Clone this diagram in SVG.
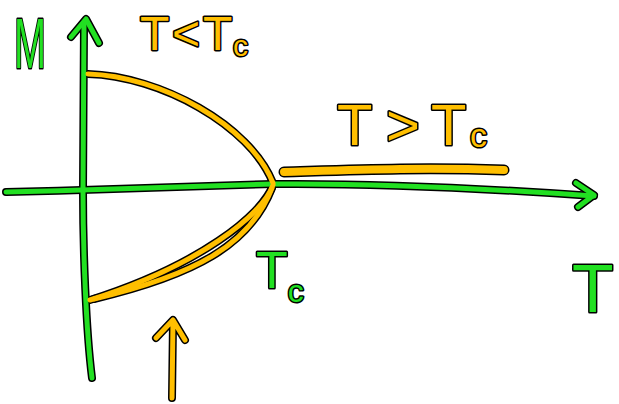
<svg xmlns="http://www.w3.org/2000/svg" xmlns:xlink="http://www.w3.org/1999/xlink" width="619" height="404" viewBox="0 0 619 404">
<style>
.ol{fill:none;stroke:#000;stroke-width:8;stroke-linecap:round;stroke-linejoin:round}
.olw{fill:none;stroke:#000;stroke-width:11;stroke-linecap:round;stroke-linejoin:round}
.gr{fill:none;stroke:#22e022;stroke-width:5;stroke-linecap:round;stroke-linejoin:round}
.or{fill:none;stroke:#ffbf00;stroke-width:5;stroke-linecap:round;stroke-linejoin:round}
.orw{fill:none;stroke:#ffbf00;stroke-width:8;stroke-linecap:round;stroke-linejoin:round}
.t{font-family:"Liberation Sans","DejaVu Sans",sans-serif;stroke:#000;stroke-width:3;paint-order:stroke;stroke-linejoin:round}
.tg{fill:#22e022}
.to{fill:#ffbf00}
</style>
<defs>
<path id="vax" d="M84 24 L83 190 C83 250 86 330 92 378"/>
<path id="vah" d="M71 37 L86 19 L99 43"/>
<path id="hax" d="M6 192 C100 190 200 186 273 184 C380 183 480 188 594 196"/>
<path id="hah" d="M576 183 L594 195 L578 207"/>
<path id="up" d="M88 74 C160 76 250 125 273 183"/>
<path id="lo1" d="M273 185 C262 215 200 265 90 300"/>
<path id="lo2" d="M272 188 C250 245 195 275 94 299"/>
<path id="hi" d="M284 172 C350 170 420 167 504 170"/>
<path id="arr" d="M172 398 L173 322 M156 338 L173 320 L185 340"/>
</defs>
<rect width="619" height="404" fill="#fff"/>
<g id="connectors">
<g id="curves-outline">
<use xlink:href="#up" class="ol"/>
<use xlink:href="#lo1" class="ol"/>
<use xlink:href="#lo2" class="ol"/>
<use xlink:href="#hi" class="olw"/>
<use xlink:href="#arr" class="ol"/>
</g>
<g id="axes-outline">
<use xlink:href="#vax" class="ol"/>
<use xlink:href="#vah" class="ol"/>
<use xlink:href="#hax" class="ol"/>
<use xlink:href="#hah" class="ol"/>
</g>
<g id="axes">
<use xlink:href="#vax" class="gr"/>
<use xlink:href="#vah" class="gr"/>
<use xlink:href="#hax" class="gr"/>
<use xlink:href="#hah" class="gr"/>
</g>
<g id="curves">
<use xlink:href="#up" class="or"/>
<use xlink:href="#lo1" class="or"/>
<use xlink:href="#lo2" class="or"/>
<use xlink:href="#hi" class="orw"/>
<use xlink:href="#arr" class="or"/>
</g>
</g>
<g id="label-M"><text class="t tg" x="14" y="68" font-size="70" textLength="32" lengthAdjust="spacingAndGlyphs">M</text></g>
<g id="label-below"><text class="t to" y="50" font-size="48"><tspan x="140">T</tspan><tspan x="172">&lt;</tspan><tspan x="203">T</tspan><tspan x="233" y="56" font-size="30">c</tspan></text></g>
<g id="label-above"><text class="t to" y="145" font-size="58"><tspan x="337">T</tspan><tspan x="386">&gt;</tspan><tspan x="431">T</tspan><tspan x="470" y="147" font-size="34">c</tspan></text></g>
<g id="label-Tc"><text class="t tg" x="256" y="288" font-size="52">T<tspan font-size="32" dy="14">c</tspan></text></g>
<g id="label-T"><text class="t tg" x="572" y="312" font-size="68">T</text></g>
</svg>
